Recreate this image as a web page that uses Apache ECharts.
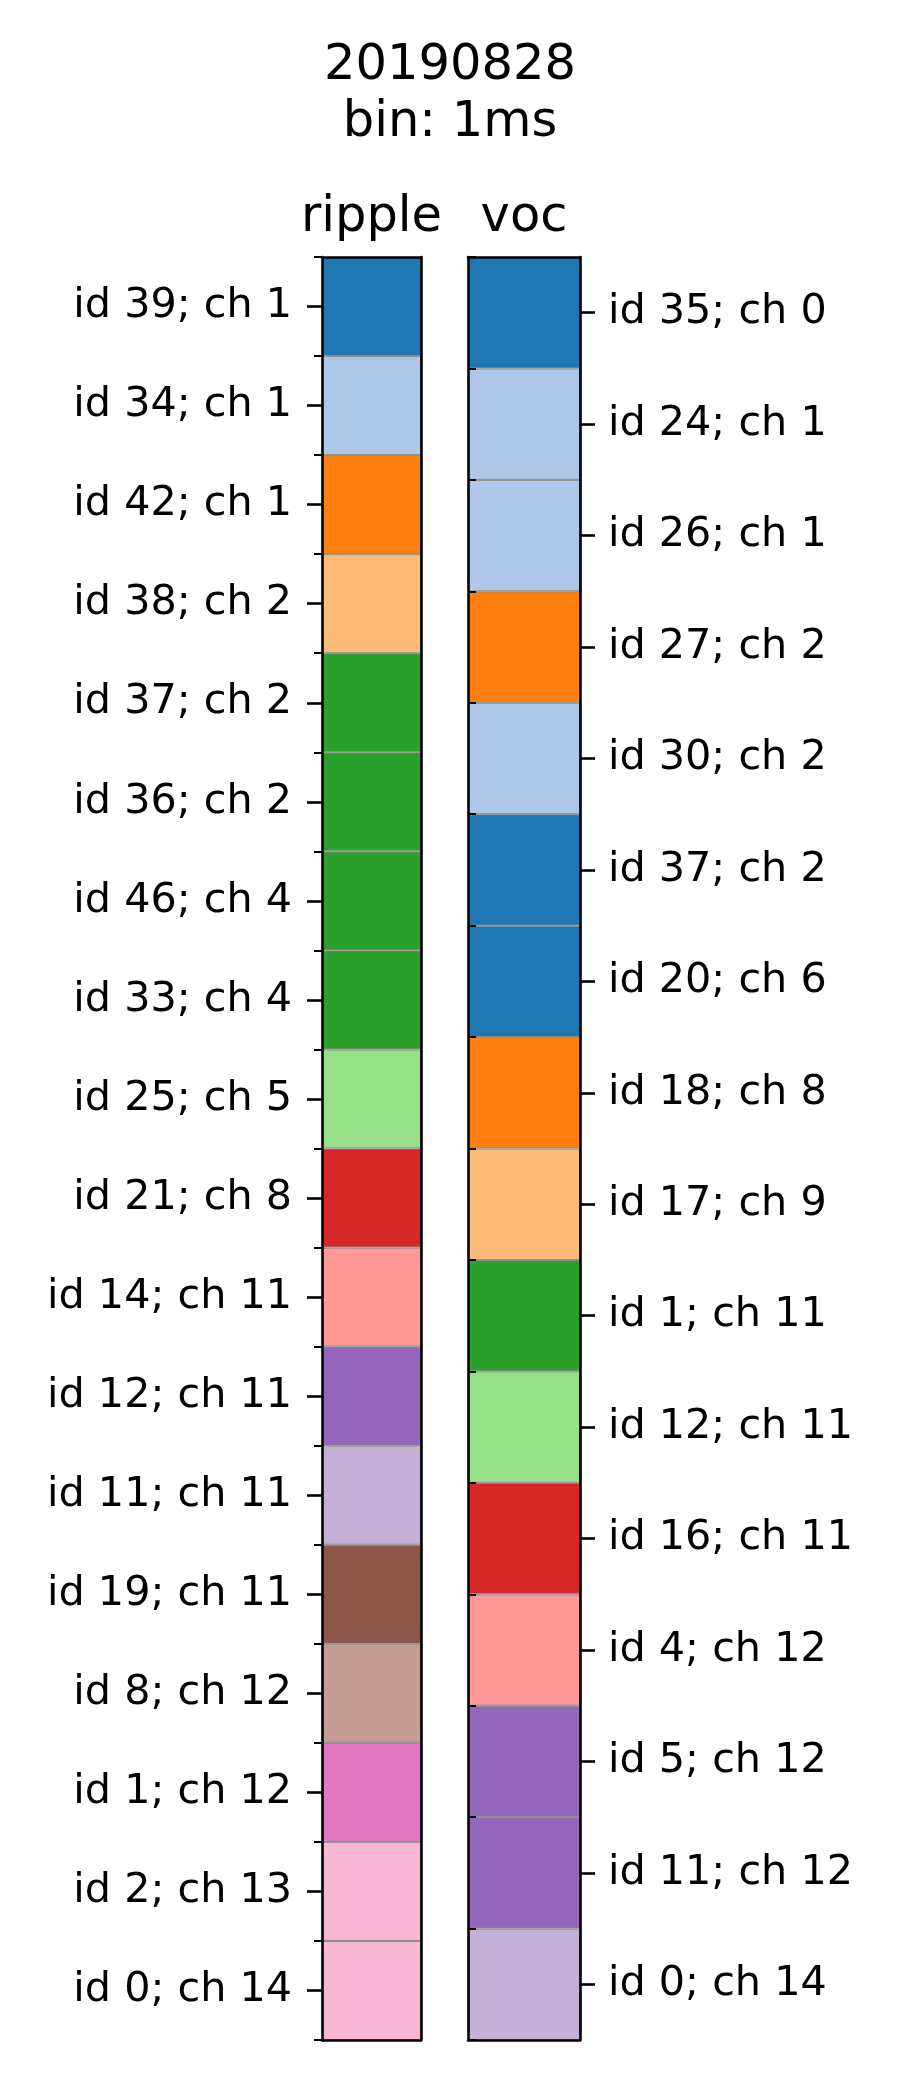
<!DOCTYPE html>
<html>
<head>
<meta charset="utf-8">
<script src="https://cdn.jsdelivr.net/npm/echarts@6/dist/echarts.min.js"></script>
<style>
html,body{margin:0;padding:0;background:#fff;}
#chart{width:900px;height:2100px;}
</style>
</head>
<body>
<div id="chart"></div>
<script>
// ---- data ----
const mainTitle = '20190828\nbin: 1ms';
const panelTitles = ['ripple', 'voc'];
const rippleLabels = ['id 39; ch 1','id 34; ch 1','id 42; ch 1','id 38; ch 2','id 37; ch 2','id 36; ch 2','id 46; ch 4','id 33; ch 4','id 25; ch 5','id 21; ch 8','id 14; ch 11','id 12; ch 11','id 11; ch 11','id 19; ch 11','id 8; ch 12','id 1; ch 12','id 2; ch 13','id 0; ch 14'];
const rippleGroups = [0,1,2,3,4,4,4,4,5,6,7,8,9,10,11,12,13,13];
const vocLabels = ['id 35; ch 0','id 24; ch 1','id 26; ch 1','id 27; ch 2','id 30; ch 2','id 37; ch 2','id 20; ch 6','id 18; ch 8','id 17; ch 9','id 1; ch 11','id 12; ch 11','id 16; ch 11','id 4; ch 12','id 5; ch 12','id 11; ch 12','id 0; ch 14'];
const vocGroups = [0,1,1,2,1,0,0,2,3,4,5,6,7,8,8,9];

// ---- style ----
const tab20 = ['#1f77b4','#aec7e8','#ff7f0e','#ffbb78','#2ca02c','#98df8a','#d62728','#ff9896','#9467bd','#c5b0d5','#8c564b','#c49c94','#e377c2','#f7b6d2','#7f7f7f','#c7c7c7','#bcbd22','#dbdb8d','#17becf','#9edae5'];
const FONT = 'DejaVu Sans';
const LW = 2.6;
const TICK_FS = 41.3, TITLE_FS = 49.5;
const TOP = 257, H = 1783;
const rippleBox = {left: 322, top: TOP, width: 99, height: H};
const vocBox = {left: 468, top: TOP, width: 112, height: H};

function frameX(gridIndex, position) {
  return {
    type: 'value', gridIndex, min: 0, max: 1, position, z: 5,
    axisLine: {show: true, onZero: false, lineStyle: {color: '#000', width: LW}},
    axisTick: {show: false}, axisLabel: {show: false}, splitLine: {show: false}
  };
}
function labelY(gridIndex, data, position, margin) {
  return {
    type: 'category', gridIndex, data, inverse: true, position, z: 5,
    axisLine: {show: true, onZero: false, lineStyle: {color: '#000', width: LW}},
    axisTick: {show: true, alignWithLabel: true, interval: 0, length: 15, lineStyle: {color: '#000', width: LW}},
    axisLabel: {show: true, interval: 0, margin, padding: [7, 0, 0, 0], color: '#000', fontSize: TICK_FS, fontFamily: FONT},
    splitLine: {show: false}
  };
}
function lineY(gridIndex, data, position) {
  return {
    type: 'category', gridIndex, data, inverse: true, position, z: 5,
    axisLine: {show: true, onZero: false, lineStyle: {color: '#000', width: LW}},
    axisTick: {show: false}, axisLabel: {show: false}, splitLine: {show: false}
  };
}
function minorY(gridIndex, data, position) {
  return {
    type: 'category', gridIndex, data, inverse: true, position, z: 5,
    axisLine: {show: false},
    axisTick: {show: true, alignWithLabel: false, interval: 0, length: 8, lineStyle: {color: '#000', width: 2}},
    axisLabel: {show: false}, splitLine: {show: false}
  };
}
function cells(groups) {
  return groups.map(g => ({value: 1, itemStyle: {color: tab20[g]}}));
}

const chart = echarts.init(document.getElementById('chart'), null, {renderer: 'canvas'});
chart.setOption({
  backgroundColor: '#fff',
  animation: false,
  title: [
    {text: mainTitle, left: 450, top: 38, textAlign: 'center', padding: 0,
     textStyle: {fontSize: TITLE_FS, lineHeight: 57, fontWeight: 'normal', color: '#000', fontFamily: FONT}},
    {text: panelTitles[0], left: rippleBox.left + rippleBox.width / 2, top: 193, textAlign: 'center', padding: 0,
     textStyle: {fontSize: TITLE_FS, fontWeight: 'normal', color: '#000', fontFamily: FONT}},
    {text: panelTitles[1], left: vocBox.left + vocBox.width / 2, top: 193, textAlign: 'center', padding: 0,
     textStyle: {fontSize: TITLE_FS, fontWeight: 'normal', color: '#000', fontFamily: FONT}}
  ],
  grid: [
    Object.assign({containLabel: false}, rippleBox),
    Object.assign({containLabel: false}, rippleBox),
    Object.assign({containLabel: false}, vocBox),
    Object.assign({containLabel: false}, vocBox)
  ],
  xAxis: [
    frameX(0, 'bottom'),
    frameX(1, 'top'),
    frameX(2, 'bottom'),
    frameX(3, 'top')
  ],
  yAxis: [
    labelY(0, rippleLabels, 'left', 30),
    lineY(0, rippleLabels, 'right'),
    minorY(1, rippleLabels, 'left'),
    labelY(2, vocLabels, 'right', 28),
    lineY(2, vocLabels, 'left'),
    minorY(3, vocLabels, 'right')
  ],
  series: [
    {type: 'bar', xAxisIndex: 0, yAxisIndex: 0, data: cells(rippleGroups), barWidth: '100%', barCategoryGap: '0%',
     itemStyle: {borderColor: '#8a8a8a', borderWidth: 1}},
    {type: 'bar', xAxisIndex: 2, yAxisIndex: 3, data: cells(vocGroups), barWidth: '100%', barCategoryGap: '0%',
     itemStyle: {borderColor: '#8a8a8a', borderWidth: 1}}
  ]
});
</script>
</body>
</html>
